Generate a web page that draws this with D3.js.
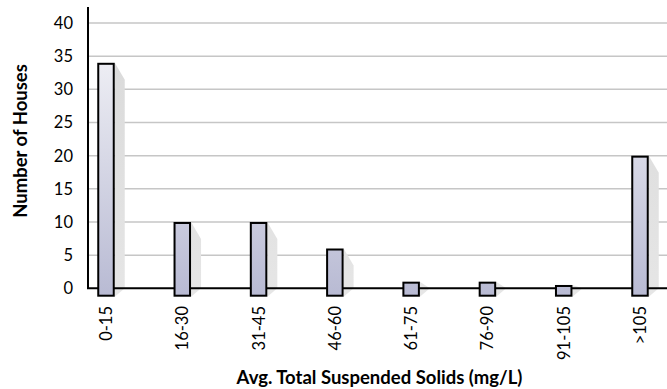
<!DOCTYPE html>
<html>
<head>
<meta charset="utf-8">
<script src="https://cdn.jsdelivr.net/npm/d3@7"></script>
<style>
  html, body { margin: 0; padding: 0; background: #fff; }
  svg { display: block; font-family: Lato, "Open Sans", sans-serif; }
</style>
</head>
<body>
<svg id="chart" width="667" height="389"></svg>
<script>
// Houses grouped by average total suspended solids
const categories = ["0-15", "16-30", "31-45", "46-60", "61-75", "76-90", "91-105", ">105"];
const houses = [34, 10, 10, 6, 1, 1, 0.5, 20];
const yTicks = [0, 5, 10, 15, 20, 25, 30, 35, 40];
const xTitle = "Avg. Total Suspended Solids (mg/L)";
const yTitle = "Number of Houses";

const plotLeft = 88, plotRight = 667, plotTop = 23, zeroY = 288.3;
const barW = 17.5, drop = 8.4, shadowW = 10, shadowDrop = 17;

const svg = d3.select("#chart");

const y = d3.scaleLinear().domain([0, 40]).range([zeroY, plotTop]);
const x = d3.scalePoint().domain(categories).range([plotLeft + 18, plotRight - 27]);

const rows = categories.map((c, i) => ({ c, v: houses[i] }));

// bar fill gradient spanning the plot height
const defs = svg.append("defs");
const grad = defs.append("linearGradient")
  .attr("id", "barFill")
  .attr("gradientUnits", "userSpaceOnUse")
  .attr("x1", 0).attr("x2", 0)
  .attr("y1", y(40)).attr("y2", zeroY + drop);
grad.append("stop").attr("offset", "0%").attr("stop-color", "#f6f6f9");
grad.append("stop").attr("offset", "100%").attr("stop-color", "#b8bad3");

const shadowGrad = defs.append("linearGradient")
  .attr("id", "shadowFill")
  .attr("gradientUnits", "userSpaceOnUse")
  .attr("x1", 0).attr("x2", 0)
  .attr("y1", y(40)).attr("y2", zeroY + drop);
shadowGrad.append("stop").attr("offset", "0%").attr("stop-color", "#d9d9d9");
shadowGrad.append("stop").attr("offset", "100%").attr("stop-color", "#e6e6e6");

// horizontal gridlines
svg.append("g")
  .selectAll("line")
  .data(yTicks.filter(d => d > 0))
  .join("line")
  .attr("x1", plotLeft).attr("x2", plotRight)
  .attr("y1", d => y(d)).attr("y2", d => y(d))
  .attr("stroke", "#c6c6c6")
  .attr("stroke-width", 1.5);

// bar shadows
svg.append("g")
  .selectAll("path")
  .data(rows)
  .join("path")
  .attr("fill", "url(#shadowFill)")
  .attr("d", d => {
    const x1 = x(d.c) + barW / 2;
    const t = y(d.v);
    const diag = Math.min(t + shadowDrop, zeroY);
    return `M${x1},${t}L${x1 + shadowW},${diag}L${x1 + shadowW},${zeroY}L${x1},${zeroY + drop}Z`;
  });

// y axis line
svg.append("line")
  .attr("x1", plotLeft).attr("x2", plotLeft)
  .attr("y1", 7).attr("y2", zeroY)
  .attr("stroke", "#000").attr("stroke-width", 2);

// x axis line
svg.append("line")
  .attr("x1", plotLeft - 1).attr("x2", plotRight)
  .attr("y1", zeroY).attr("y2", zeroY)
  .attr("stroke", "#000").attr("stroke-width", 2);

// bars
svg.append("g")
  .selectAll("rect")
  .data(rows)
  .join("rect")
  .attr("x", d => x(d.c) - barW / 2 + 1)
  .attr("width", barW - 2)
  .attr("y", d => y(d.v) + 1)
  .attr("height", d => zeroY + drop - y(d.v) - 2)
  .attr("fill", "url(#barFill)")
  .attr("stroke", "#000")
  .attr("stroke-width", 2);

// y tick labels
svg.append("g")
  .selectAll("text")
  .data(yTicks)
  .join("text")
  .attr("x", 73)
  .attr("y", d => y(d))
  .attr("dy", "0.36em")
  .attr("text-anchor", "end")
  .attr("font-size", 16.5)
  .attr("fill", "#000")
  .text(d => d);

// x category labels, rotated
svg.append("g")
  .selectAll("text")
  .data(categories)
  .join("text")
  .attr("transform", d => `translate(${x(d)},306) rotate(-90)`)
  .attr("dy", "0.36em")
  .attr("text-anchor", "end")
  .attr("font-size", 16.5)
  .attr("fill", "#000")
  .text(d => d);

// axis titles
svg.append("text")
  .attr("x", (plotLeft + plotRight) / 2 + 2)
  .attr("y", 384)
  .attr("text-anchor", "middle")
  .attr("font-size", 18.5)
  .attr("font-weight", "bold")
  .text(xTitle);

svg.append("text")
  .attr("transform", `translate(20,141) rotate(-90)`)
  .attr("dy", "0.36em")
  .attr("text-anchor", "middle")
  .attr("font-size", 18.5)
  .attr("font-weight", "bold")
  .text(yTitle);
</script>
</body>
</html>
